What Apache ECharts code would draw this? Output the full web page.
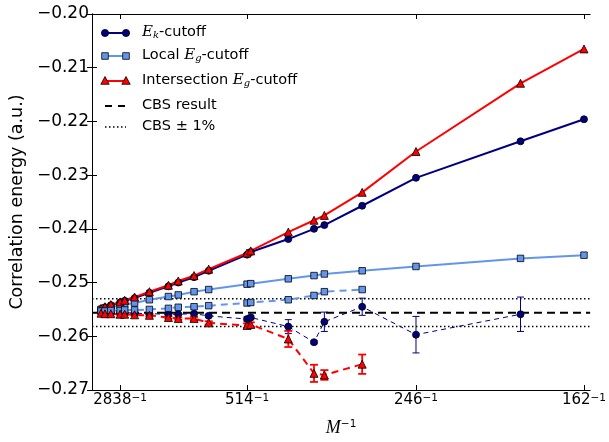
<!DOCTYPE html>
<html><head><meta charset="utf-8">
<script src="https://cdn.jsdelivr.net/npm/echarts@6/dist/echarts.min.js"></script>
<style>html,body{margin:0;padding:0;background:#fff}#c{width:609px;height:442px}</style>
</head><body><div id="c"></div>
<script>
// Basis sizes M (x axis is M^-1)
const M = [8850, 6150, 4220, 2838, 2438, 1872, 1389, 1043, 924, 781, 683, 514, 502, 406, 359, 343, 295, 246, 186, 162];
const xTickM = [2838, 514, 246, 162];

const ekSolid  = [-0.2549, -0.2546, -0.2542, -0.2537, -0.2534, -0.2529, -0.2519, -0.2507, -0.2500, -0.2490, -0.2478, -0.2448, -0.2443, -0.2419, -0.2400, -0.2393, -0.2357, -0.2305, -0.2237, -0.2196];
const locSolid = [-0.2550, -0.2548, -0.2546, -0.2543, -0.2541, -0.2538, -0.2532, -0.2526, -0.2523, -0.2517, -0.2513, -0.2503, -0.2502, -0.2493, -0.2487, -0.2484, -0.2478, -0.2470, -0.2455, -0.2449];
const intSolid = [-0.2548, -0.2545, -0.2541, -0.2536, -0.2533, -0.2527, -0.2517, -0.2505, -0.2497, -0.2487, -0.2475, -0.2445, -0.2441, -0.2406, -0.2384, -0.2375, -0.2332, -0.2256, -0.2129, -0.2065];

const ekDash   = [-0.2555, -0.2555, -0.2556, -0.2556, -0.2556, -0.2557, -0.2558, -0.2559, -0.2559, -0.2558, -0.2562, -0.2568, -0.2565, -0.2582, -0.2611, -0.2573, -0.2545, -0.2597, -0.2559];
const ekDashErr= [0.0001, 0.0001, 0.0001, 0.0001, 0.0001, 0.0001, 0.0002, 0.0002, 0.0002, 0.0002, 0.0003, 0.0004, 0.0004, 0.0013, 0.0003, 0.0018, 0.0016, 0.0034, 0.0032];
const locDash  = [-0.2553, -0.2553, -0.2552, -0.2552, -0.2551, -0.2551, -0.2550, -0.2548, -0.2546, -0.2545, -0.2543, -0.2538, -0.2537, -0.2532, -0.2524, -0.2517, -0.2513];
const intDash  = [-0.2557, -0.2558, -0.2558, -0.2559, -0.2559, -0.2560, -0.2561, -0.2565, -0.2567, -0.2567, -0.2575, -0.2580, -0.2578, -0.2605, -0.2669, -0.2672, -0.2652];
const intDashErr=[0.0001, 0.0001, 0.0001, 0.0001, 0.0001, 0.0001, 0.0002, 0.0002, 0.0002, 0.0003, 0.0003, 0.0004, 0.0004, 0.0015, 0.0016, 0.0009, 0.0018];

const cbs = -0.2556;
const cbsHigh = -0.2530;
const cbsLow = -0.2582;
const xMin = 0, xMax = 0.00625;

const NAVY = '#000080', CORN = '#6495ED', RED = '#FF0000';

function pts(vals) { return vals.map((v, i) => [1 / M[i], v]); }

function lineS(name, vals, color, sym, size, lw, dash, z) {
  return {
    type: 'line', name, data: pts(vals), z, silent: true,
    symbol: sym, symbolSize: size, showSymbol: true, showAllSymbol: true,
    itemStyle: { color, borderColor: '#000', borderWidth: 0.8 },
    lineStyle: { color, width: lw, type: dash || 'solid' },
    emphasis: { disabled: true }, animation: false
  };
}
function errS(vals, errs, color, lw, cw, z) {
  return {
    type: 'custom', silent: true, z, animation: false,
    encode: { x: 0, y: [1, 2] },
    data: vals.map((v, i) => [1 / M[i], v - errs[i], v + errs[i]]),
    renderItem: (params, api) => {
      const x = api.value(0);
      const p1 = api.coord([x, api.value(1)]), p2 = api.coord([x, api.value(2)]);
      const st = { stroke: color, lineWidth: lw };
      return { type: 'group', children: [
        { type: 'line', shape: { x1: p1[0], y1: p1[1], x2: p2[0], y2: p2[1] }, style: st },
        { type: 'line', shape: { x1: p1[0] - cw, y1: p1[1], x2: p1[0] + cw, y2: p1[1] }, style: st },
        { type: 'line', shape: { x1: p2[0] - cw, y1: p2[1], x2: p2[0] + cw, y2: p2[1] }, style: st }
      ]};
    }
  };
}
function hLine(val, dash, lw, z) {
  return { type: 'line', data: [[xMin, val], [xMax, val]], symbol: 'none', silent: true, z,
    lineStyle: { color: '#000', width: lw, type: dash }, animation: false };
}

// legend (drawn with graphic)
const legRich = {
  n: { fontFamily: 'DejaVu Sans', fontSize: 14.5, lineHeight: 15, padding: [0, 0, 5, 0], verticalAlign: 'top', color: '#000' },
  e: { fontFamily: 'DejaVu Serif', fontStyle: 'italic', fontSize: 15, lineHeight: 15, padding: [0, 0, 5, 0], verticalAlign: 'top', color: '#000' },
  s: { fontFamily: 'DejaVu Serif', fontStyle: 'italic', fontSize: 10, lineHeight: 10, verticalAlign: 'bottom', color: '#000' }
};
const LX1 = 105, LX2 = 126, TX = 142;
function marker(kind, cx, cy, color) {
  const st = { fill: color, stroke: '#000', lineWidth: 0.8 };
  if (kind === 'circle') return { type: 'circle', shape: { cx, cy, r: 3.6 }, style: st };
  if (kind === 'rect') return { type: 'rect', shape: { x: cx - 3.3, y: cy - 3.3, width: 6.6, height: 6.6 }, style: st };
  return { type: 'polygon', shape: { points: [[cx, cy - 4.5], [cx + 4.2, cy + 3.3], [cx - 4.2, cy + 3.3]] }, style: st };
}
const legendItems = [
  { y: 33, color: NAVY, kind: 'circle', text: '{e|E}{s|k}{n|-cutoff}' },
  { y: 56, color: CORN, kind: 'rect', text: '{n|Local }{e|E}{s|g}{n|-cutoff}' },
  { y: 81, color: RED, kind: 'tri', text: '{n|Intersection }{e|E}{s|g}{n|-cutoff}' },
  { y: 106, dash: [7, 6], lw: 2, text: '{n|CBS result}' },
  { y: 127, dash: [1.5, 2.5], lw: 1.5, text: '{n|CBS ± 1%}' }
];
const graphics = [];
legendItems.forEach(it => {
  if (it.kind) {
    graphics.push({ type: 'line', shape: { x1: LX1, y1: it.y, x2: LX2, y2: it.y }, style: { stroke: it.color, lineWidth: 2 }, z: 10 });
    graphics.push(Object.assign(marker(it.kind, LX1, it.y, it.color), { z: 11 }));
    graphics.push(Object.assign(marker(it.kind, LX2, it.y, it.color), { z: 11 }));
  } else {
    graphics.push({ type: 'line', shape: { x1: LX1, y1: it.y, x2: LX2, y2: it.y }, style: { stroke: '#000', lineWidth: it.lw, lineDash: it.dash }, z: 10 });
  }
  graphics.push({ type: 'text', x: TX, y: it.y - 8, z: 11, style: { text: it.text, rich: legRich, verticalAlign: 'top', align: 'left' } });
});

const chart = echarts.init(document.getElementById('c'), null, { renderer: 'canvas' });
const axisLineStyle = { show: true, lineStyle: { color: '#000', width: 1 } };
const tickInside = { show: true, inside: true, length: 5, lineStyle: { color: '#000', width: 1 } };
const xTickVals = xTickM.map(m => 1 / m);

chart.setOption({
  animation: false,
  backgroundColor: '#fff',
  grid: { left: 88, right: 18, top: 14, bottom: 45, containLabel: false },
  xAxis: [
    {
      type: 'value', min: xMin, max: xMax, position: 'bottom',
      axisLine: axisLineStyle, splitLine: { show: false },
      axisTick: Object.assign({ customValues: xTickVals }, tickInside),
      axisLabel: {
        customValues: xTickVals, margin: 3,
        formatter: v => '{b|' + Math.round(1 / v) + '}{s|−1}',
        rich: {
          b: { fontFamily: 'DejaVu Sans', fontSize: 15, lineHeight: 15, padding: [5, 0, 0, 0], verticalAlign: 'bottom', color: '#000' },
          s: { fontFamily: 'DejaVu Sans', fontSize: 10.5, lineHeight: 11, verticalAlign: 'top', color: '#000' }
        }
      },
      name: '{m|M}{s|−1}', nameLocation: 'middle', nameGap: 29,
      nameTextStyle: {
        rich: {
          m: { fontFamily: 'Liberation Serif', fontStyle: 'italic', fontSize: 18, lineHeight: 18, padding: [5, 0, 0, 0], verticalAlign: 'bottom', color: '#000' },
          s: { fontFamily: 'DejaVu Sans', fontSize: 10.5, lineHeight: 11, verticalAlign: 'top', color: '#000' }
        }
      }
    },
    {
      type: 'value', min: xMin, max: xMax, position: 'top',
      axisLine: axisLineStyle, splitLine: { show: false },
      axisTick: Object.assign({ customValues: xTickVals }, tickInside),
      axisLabel: { show: false }
    }
  ],
  yAxis: [
    {
      type: 'value', min: -0.27, max: -0.20, interval: 0.01, position: 'left',
      axisLine: axisLineStyle, splitLine: { show: false }, axisTick: tickInside,
      axisLabel: {
        margin: 3, fontFamily: 'DejaVu Sans', fontSize: 17, color: '#000',
        formatter: v => (v < 0 ? '−' : '') + Math.abs(v).toFixed(2)
      },
      name: 'Correlation energy (a.u.)', nameLocation: 'middle', nameGap: 61,
      nameTextStyle: { fontFamily: 'DejaVu Sans', fontSize: 17.5, color: '#000' }
    },
    {
      type: 'value', min: -0.27, max: -0.20, interval: 0.01, position: 'right',
      axisLine: axisLineStyle, splitLine: { show: false }, axisTick: tickInside,
      axisLabel: { show: false }
    }
  ],
  graphic: graphics,
  series: [
    hLine(cbsHigh, [1.5, 2.5], 1.5, 1),
    hLine(cbsLow, [1.5, 2.5], 1.5, 1),
    hLine(cbs, [8, 5], 2, 1),
    lineS('Ek-cutoff', ekSolid, NAVY, 'circle', 7, 2, 'solid', 3),
    lineS('Local Eg-cutoff', locSolid, CORN, 'rect', 6.5, 2, 'solid', 3),
    lineS('Intersection Eg-cutoff', intSolid, RED, 'triangle', 8, 2, 'solid', 3),
    errS(ekDash, ekDashErr, NAVY, 1, 3.5, 4),
    lineS('Ek dashed', ekDash, NAVY, 'circle', 7, 1, [5, 4], 5),
    lineS('Local dashed', locDash, CORN, 'rect', 6.5, 2, [7, 5], 5),
    errS(intDash, intDashErr, RED, 1.8, 4, 4),
    lineS('Intersection dashed', intDash, RED, 'triangle', 8, 2, [7, 5], 5)
  ]
});
</script>
</body></html>
